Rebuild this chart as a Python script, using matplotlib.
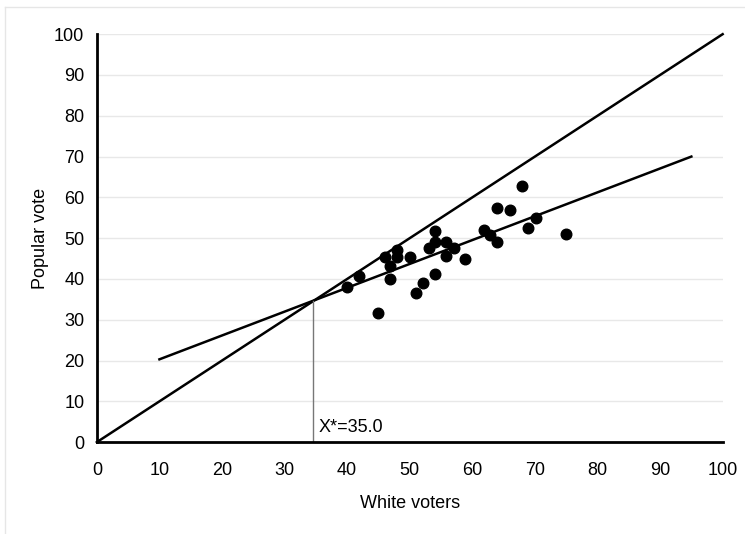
import matplotlib.pyplot as plt
from matplotlib.lines import Line2D

# scatter data (white voters %, popular vote %)
white_voters = [39.9, 41.9, 45.0, 46.0, 46.9, 46.9, 47.9, 48.0, 50.0, 51.0,
                52.1, 54.0, 53.0, 54.0, 54.0, 55.8, 55.8, 57.0, 58.9, 61.9,
                62.8, 64.0, 64.0, 66.0, 68.0, 68.9, 70.1, 75.0]
popular_vote = [38.1, 40.7, 31.7, 45.3, 43.2, 40.0, 47.1, 45.4, 45.3, 36.6,
                38.9, 41.2, 47.7, 51.7, 49.1, 49.1, 45.6, 47.7, 44.9, 52.1,
                50.7, 49.1, 57.3, 56.9, 62.8, 52.6, 55.0, 51.1]

# fitted line and 45-degree line
fit_x = [10, 95]
fit_y = [20.3, 70.0]
diag_x = [0, 100]
diag_y = [0, 100]
x_cross = 34.5      # where the two lines meet
x_star_label = 35.0

plt.rcParams['font.family'] = ['Liberation Sans', 'DejaVu Sans']

fig = plt.figure(figsize=(7.45, 5.34), dpi=100)
ax = fig.add_axes([0.130, 0.172, 0.840, 0.764])

ax.set_xlim(0, 100)
ax.set_ylim(0, 100)
ax.set_xticks(range(0, 101, 10))
ax.set_yticks(range(0, 101, 10))
ax.yaxis.grid(True, color='#e8e8e8', linewidth=1.0)
ax.set_axisbelow(True)
ax.tick_params(length=0, labelsize=13)
ax.tick_params(axis='x', pad=14)
ax.tick_params(axis='y', pad=9)

for side in ['top', 'right']:
    ax.spines[side].set_visible(False)
for side in ['left', 'bottom']:
    ax.spines[side].set_linewidth(2)
    ax.spines[side].set_color('black')

ax.plot(diag_x, diag_y, color='black', linewidth=1.8, clip_on=False)
ax.plot(fit_x, fit_y, color='black', linewidth=1.8)
ax.plot([x_cross, x_cross], [0, x_cross], color='#777777', linewidth=1.0)
ax.scatter(white_voters, popular_vote, s=58, color='black', zorder=3)

ax.text(x_cross + 0.9, 2.5, f'X*={x_star_label:.1f}', fontsize=13)

ax.set_xlabel('White voters', fontsize=13, labelpad=12)
ax.set_ylabel('Popular vote', fontsize=13, labelpad=4)

# faint frame around the picture
fig.add_artist(Line2D([5 / 745, 5 / 745], [0, 1 - 7 / 534], transform=fig.transFigure,
                      color='#e6e6e6', linewidth=1))
fig.add_artist(Line2D([5 / 745, 1], [1 - 7 / 534, 1 - 7 / 534], transform=fig.transFigure,
                      color='#e6e6e6', linewidth=1))

fig.savefig('out.png', dpi=100)
